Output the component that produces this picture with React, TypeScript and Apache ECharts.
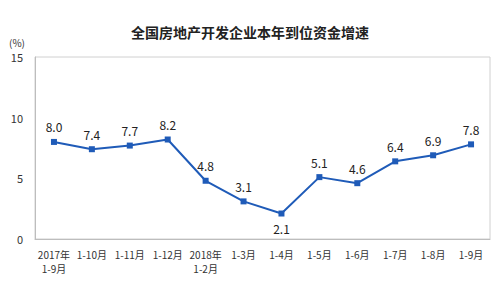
import React, { useEffect, useRef } from "react";
import * as echarts from "echarts";

const categories = ["2017年\n1-9月", "1-10月", "1-11月", "1-12月", "2018年\n1-2月", "1-3月", "1-4月", "1-5月", "1-6月", "1-7月", "1-8月", "1-9月"];
const values = [8.0, 7.4, 7.7, 8.2, 4.8, 3.1, 2.1, 5.1, 4.6, 6.4, 6.9, 7.8];
const title = "全国房地产开发企业本年到位资金增速";
const unit = "(%)";

export default function App() {
  const ref = useRef<HTMLDivElement>(null);
  useEffect(() => {
    const chart = echarts.init(ref.current!, null, { renderer: "svg" });
    const font = "'Noto Sans CJK SC', 'Noto Sans', sans-serif";
    chart.setOption({
      animation: false,
      backgroundColor: "#fff",
      title: {
        text: title,
        left: "center",
        top: 20,
        textStyle: { fontSize: 14, fontWeight: "bold", color: "#222", fontFamily: font },
      },
      graphic: [
        { type: "text", left: 9, top: 37, style: { text: unit, fontSize: 10, fill: "#333", fontFamily: font } },
        { type: "rect", shape: { x: 35, y: 57, width: 455, height: 182 }, style: { fill: "none", stroke: "#d0d0d0", lineWidth: 1 }, silent: true, z: 0 },
      ],
      grid: { left: 35, right: 10, top: 57, bottom: 57 },
      xAxis: {
        type: "category",
        data: categories,
        boundaryGap: true,
        axisLine: { lineStyle: { color: "#bdbdbd" } },
        axisTick: { inside: true, length: 3, lineStyle: { color: "#bdbdbd" } },
        axisLabel: { fontSize: 10, color: "#333", fontFamily: font, margin: 8, lineHeight: 14.5, interval: 0 },
      },
      yAxis: {
        type: "value",
        min: 0,
        max: 15,
        interval: 5,
        axisLine: { show: true, lineStyle: { color: "#bdbdbd" } },
        axisTick: { show: false },
        splitLine: { show: false },
        axisLabel: { fontSize: 11, color: "#333", fontFamily: font, margin: 12 },
      },
      series: [
        {
          type: "line",
          data: values.map((v, i) =>
            i === 6 ? { value: v, label: { position: "bottom" } } : v
          ),
          symbol: "rect",
          symbolSize: 6,
          lineStyle: { color: "#1f5bb8", width: 2 },
          itemStyle: { color: "#1f5bb8" },
          label: {
            show: true,
            position: "top",
            distance: 6,
            fontSize: 12,
            color: "#222",
            fontFamily: font,
            formatter: (p: any) => Number(p.value).toFixed(1),
          },
        },
      ],
    });
    return () => chart.dispose();
  }, []);
  return <div ref={ref} style={{ width: 500, height: 296, position: "absolute", left: 0, top: 0 }} />;
}
